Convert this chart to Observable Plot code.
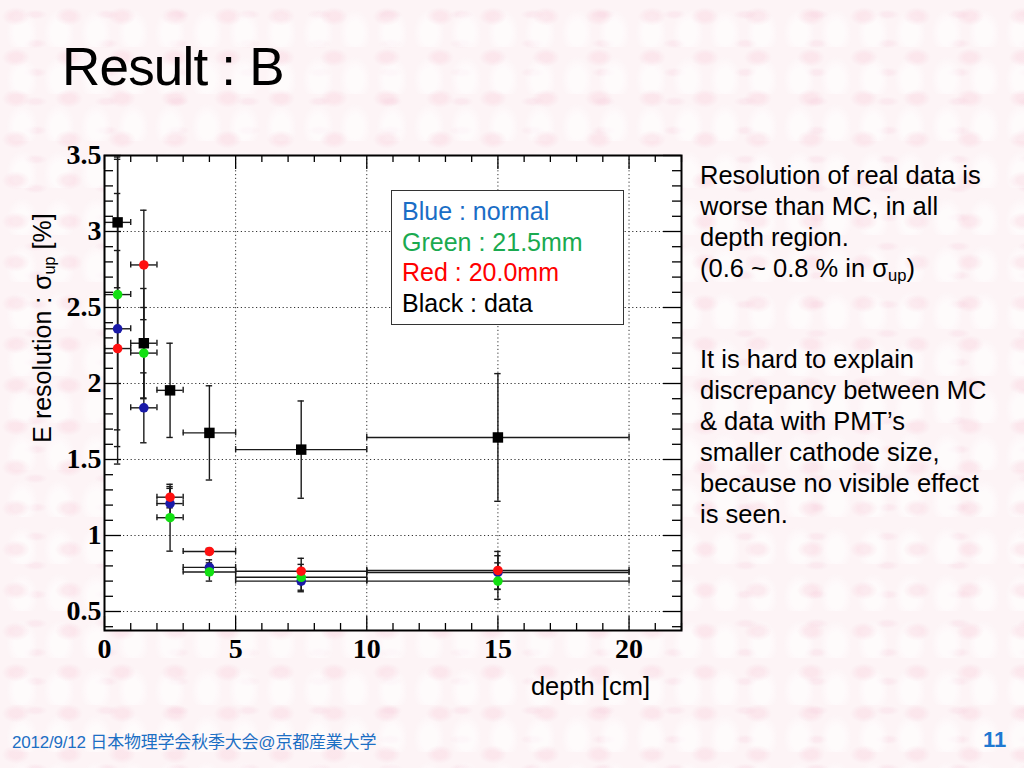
<!DOCTYPE html>
<html>
<head>
<meta charset="utf-8">
<script src="https://cdn.jsdelivr.net/npm/d3@7"></script>
<script src="https://cdn.jsdelivr.net/npm/@observablehq/plot@0.6"></script>
<style>
  html, body { margin: 0; padding: 0; }
  body {
    width: 1024px; height: 768px; position: relative; overflow: hidden;
    background-color: #fdf4f6;
    background-image:
      radial-gradient(ellipse at 30% 40%, rgba(248,205,218,0.35) 0 6px, transparent 14px),
      radial-gradient(ellipse at 60% 70%, rgba(255,255,255,0.6) 0 8px, transparent 16px),
      radial-gradient(ellipse at 50% 50%, rgba(246,210,222,0.3) 0 5px, transparent 12px);
    background-size: 53px 41px, 37px 47px, 71px 29px;
    font-family: "Liberation Sans", Arial, sans-serif;
  }
  .abs { position: absolute; white-space: nowrap; }
  #title { left: 62px; top: 41px; font-size: 53px; line-height: 52px; color: #000; letter-spacing: -0.8px; }
  #chart { position: absolute; left: 0; top: 140px; }
  .side { position: absolute; left: 700px; font-size: 25.5px; line-height: 31px; color: #000; white-space: nowrap; }
  #legend { position: absolute; left: 391px; top: 190px; width: 231px; height: 133px; border: 1.5px solid #333; background: #fff; }
  #legend div { position: absolute; left: 10px; font-size: 25px; line-height: 31px; white-space: nowrap; }
  #ylab { left: 42px; top: 328px; font-size: 25px; transform: translate(-50%, -50%) rotate(-90deg); }
  #xlab { left: 450px; width: 200px; top: 671px; text-align: right; font-size: 25.5px; line-height: 31px; }
  #footer { left: 12px; top: 733px; font-size: 17px; line-height: 20px; color: #1c6fc4; font-family: "Liberation Sans", "Noto Sans CJK JP", sans-serif; letter-spacing: -0.2px; }
  #page { left: 983px; top: 727px; font-size: 22px; line-height: 26px; font-weight: bold; color: #1f78d1; }
  sub { font-size: 0.65em; vertical-align: -0.25em; line-height: 0; }
</style>
</head>
<body>
<div id="title" class="abs">Result : B</div>
<div id="chart"></div>
<div id="legend">
  <div style="top:5px;color:#1a6ec6">Blue : normal</div>
  <div style="top:36px;color:#1aaa50">Green : 21.5mm</div>
  <div style="top:66px;color:#ff0000">Red : 20.0mm</div>
  <div style="top:97px;color:#000">Black : data</div>
</div>
<div class="side" style="top:160px">Resolution of real data is<br>worse than MC, in all<br>depth region.<br>(0.6 ~ 0.8 % in σ<sub>up</sub>)</div>
<div class="side" style="top:344px">It is hard to explain<br>discrepancy between MC<br>&amp; data with PMT’s<br>smaller cathode size,<br>because no visible effect<br>is seen.</div>
<div id="ylab" class="abs">E resolution : σ<sub>up</sub> [%]</div>
<div id="xlab" class="abs">depth [cm]</div>
<div id="footer" class="abs">2012/9/12 日本物理学会秋季大会@京都産業大学</div>
<div id="page" class="abs">11</div>
<script>
// ---- data ----
const depth   = [0.5, 1.5, 2.5, 4, 7.5, 15];
const depthLo = [0, 1, 2, 3, 5, 10];
const depthHi = [1, 2, 3, 5, 10, 20];

const blueRes  = [2.36, 1.84, 1.21, 0.79, 0.70, 0.757];
const blueErr  = [0.89, 0.23, 0.10, 0.05, 0.07, 0.11];
const greenRes = [2.585, 2.20, 1.117, 0.76, 0.725, 0.70];
const greenErr = [0.89, 0.30, 0.22, 0.06, 0.085, 0.12];
const redRes   = [2.23, 2.78, 1.252, 0.895, 0.765, 0.77];
const redErr   = [0.645, 0.36, 0.07, 0.02, 0.085, 0.125];
const dataRes  = [3.06, 2.265, 1.955, 1.675, 1.565, 1.645];
const dataErr  = [0.43, 0.36, 0.31, 0.31, 0.32, 0.42];

const xTicksMajor = [0, 5, 10, 15, 20];
const xTicksMinor = d3.range(0, 23, 1);
const yTicksMajor = [0.5, 1, 1.5, 2, 2.5, 3, 3.5];
const yTicksMinor = d3.range(4, 36, 1).map(d => d / 10);

const xDomain = [0, 22];
const yDomain = [0.375, 3.5];

const series = [
  {name: "blue",  color: "#1a1aa8", res: blueRes,  err: blueErr,  symbol: "circle"},
  {name: "green", color: "#12e012", res: greenRes, err: greenErr, symbol: "circle"},
  {name: "red",   color: "#ff1010", res: redRes,   err: redErr,   symbol: "circle"},
  {name: "data",  color: "#000000", res: dataRes,  err: dataErr,  symbol: "square"}
];

const rows = [];
for (const s of series) {
  depth.forEach((x, i) => rows.push({
    series: s.name, color: s.color, symbol: s.symbol,
    x, lo: depthLo[i], hi: depthHi[i], y: s.res[i], e: s.err[i]
  }));
}

// tick lengths (style) in data units
const W = 700, H = 560, mL = 104, mR = 19, mT = 15, mB = 70;
const ux = (xDomain[1] - xDomain[0]) / (W - mL - mR);
const uy = (yDomain[1] - yDomain[0]) / (H - mT - mB);
const capX = 3.2 * ux, capY = 3 * uy;

const errStroke = "#1a1a1a";
const marks = [
  Plot.frame({fill: "white", stroke: "none"}),
  Plot.gridX(xTicksMajor.filter(d => d > 0), {stroke: "#333", strokeOpacity: 1, strokeDasharray: "1.2,2.6", strokeWidth: 1}),
  Plot.gridY(yTicksMajor.filter(d => d < 3.5), {stroke: "#333", strokeOpacity: 1, strokeDasharray: "1.2,2.6", strokeWidth: 1}),
  // inner ticks, left & right
  Plot.ruleY(yTicksMinor, {y: d => d, x1: xDomain[0], x2: d => xDomain[0] + (yTicksMajor.includes(d) ? 17 : 9) * ux, stroke: "#000", strokeWidth: 1.3}),
  Plot.ruleY(yTicksMinor, {y: d => d, x1: d => xDomain[1] - (yTicksMajor.includes(d) ? 18 : 9) * ux, x2: xDomain[1], stroke: "#000", strokeWidth: 1.3}),
  // inner ticks, bottom & top
  Plot.ruleX(xTicksMinor, {x: d => d, y1: yDomain[0], y2: d => yDomain[0] + (d % 5 === 0 ? 14 : 7) * uy, stroke: "#000", strokeWidth: 1.3}),
  Plot.ruleX(xTicksMinor, {x: d => d, y1: d => yDomain[1] - (d % 5 === 0 ? 14 : 7) * uy, y2: yDomain[1], stroke: "#000", strokeWidth: 1.3}),
  // error bars
  Plot.ruleX(rows, {x: "x", y1: d => d.y - d.e, y2: d => d.y + d.e, stroke: errStroke, strokeWidth: 1.4, clip: true}),
  Plot.ruleY(rows, {y: "y", x1: "lo", x2: "hi", stroke: errStroke, strokeWidth: 1.4, clip: true}),
  Plot.ruleY(rows, {y: d => d.y + d.e, x1: d => d.x - capX, x2: d => d.x + capX, stroke: errStroke, strokeWidth: 1.4, clip: true}),
  Plot.ruleY(rows, {y: d => d.y - d.e, x1: d => d.x - capX, x2: d => d.x + capX, stroke: errStroke, strokeWidth: 1.4, clip: true}),
  Plot.ruleX(rows, {x: "lo", y1: d => d.y - capY, y2: d => d.y + capY, stroke: errStroke, strokeWidth: 1.4, clip: true}),
  Plot.ruleX(rows, {x: "hi", y1: d => d.y - capY, y2: d => d.y + capY, stroke: errStroke, strokeWidth: 1.4, clip: true}),
  // markers
  Plot.dot(rows.filter(d => d.symbol === "circle"), {x: "x", y: "y", r: 4.8, fill: "color", stroke: "none", symbol: "circle"}),
  Plot.dot(rows.filter(d => d.symbol === "square"), {x: "x", y: "y", r: 5.9, fill: "#000", stroke: "none", symbol: "square"}),
  Plot.frame({stroke: "#000", strokeWidth: 2}),
  Plot.axisY({ticks: yTicksMajor, tickSize: 0, tickPadding: 3, tickFormat: d => String(d), label: null,
    fontSize: 28, fontFamily: "Liberation Serif, Times New Roman, serif", fontWeight: "bold"}),
  Plot.axisX({ticks: xTicksMajor, tickSize: 0, tickPadding: 8, tickFormat: d => String(d), label: null,
    fontSize: 28, fontFamily: "Liberation Serif, Times New Roman, serif", fontWeight: "bold"})
];

const chart = Plot.plot({
  width: W, height: H,
  marginLeft: mL, marginRight: mR, marginTop: mT, marginBottom: mB,
  x: {domain: xDomain},
  y: {domain: yDomain},
  color: {type: "identity"},
  style: {background: "transparent", color: "#000", overflow: "visible"},
  marks
});
document.getElementById("chart").appendChild(chart);
</script>
</body>
</html>
